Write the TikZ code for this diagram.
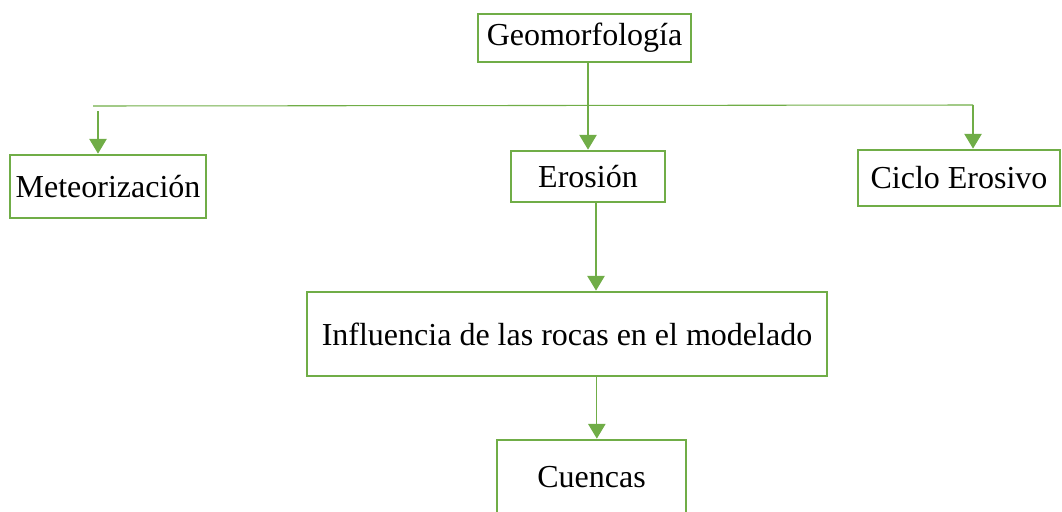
\documentclass[tikz,border=0pt]{standalone}
\usepackage{fontspec}
\setmainfont{Liberation Serif}
\usetikzlibrary{arrows.meta}
\definecolor{mapgreen}{HTML}{70AD47}
\tikzset{
box/.style 2 args={draw=mapgreen,line width=2.1pt,minimum width=#1*0.75pt,minimum height=#2*0.75pt,inner sep=0pt,font=\fontsize{24}{28}\selectfont},
link/.style={draw=mapgreen,line width=0.8pt},
arr/.style={link,-{Triangle[width=13pt,length=11pt]}}
}

\begin{document}
\begin{tikzpicture}[x=0.75pt,y=-0.75pt]
\useasboundingbox (0,0) rectangle (1062,511);
\node[box={213}{48}] at (584.5,38) (geo) {Geomorfología};
\node[box={196}{63}] at (108,186.5) (met) {Meteorización};
\node[box={154}{51}] at (588,176.5) (ero) {Erosión};
\node[box={202}{56}] at (959,178) (cic) {Ciclo Erosivo};
\node[box={520}{84}] at (567,334) (inf) {Influencia de las rocas en el modelado};
\node[box={189}{75}] at (591.5,477.5) (cue) {Cuencas};
\coordinate (hl) at (93,106);
\coordinate (hr) at (973,105);
\coordinate (ml) at (98,111);
\draw[link] (hl) -- (hr);
\draw[arr] (hr) -- (hr |- cic.north);
\draw[arr] (ml) -- (ml |- met.north);
\draw[arr] (ero.north |- geo.south) -- (ero.north);
\draw[arr] ([xshift=6pt]ero.south) -- ([xshift=6pt]ero.south |- inf.north);
\draw[arr] ([xshift=4pt]cue.north |- inf.south) -- ([xshift=4pt]cue.north);
\end{tikzpicture}
\end{document}
